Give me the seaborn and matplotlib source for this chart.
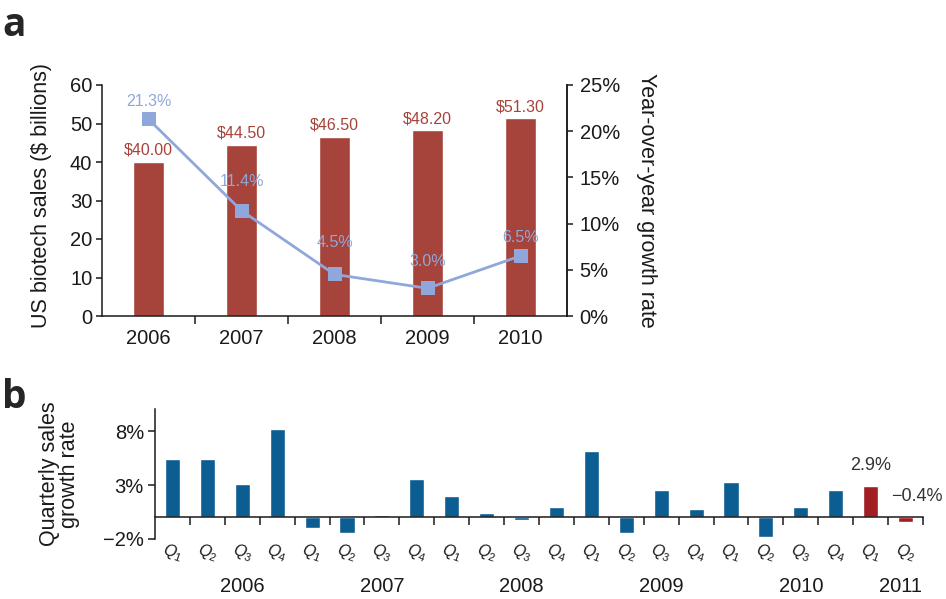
import matplotlib
matplotlib.use('Agg')
import matplotlib.pyplot as plt
import matplotlib.transforms as mtrans
from matplotlib.ticker import FixedLocator, FuncFormatter
import seaborn as sns
import pandas as pd
import numpy as np

# ---------------- data ----------------
years = ['2006', '2007', '2008', '2009', '2010']
sales = [40.00, 44.50, 46.50, 48.20, 51.30]
growth = [21.3, 11.4, 4.5, 3.0, 6.5]

q_years = ['2006', '2007', '2008', '2009', '2010', '2011']
quarters_per_year = [4, 4, 4, 4, 4, 2]
quarter_nums = ['1', '2', '3', '4'] * 5 + ['1', '2']
quarterly_growth = [5.4, 5.4, 3.1, 8.2, -1.0, -1.4, 0.2, 3.6, 2.0, 0.4,
                    -0.2, 1.0, 6.2, -1.4, 2.5, 0.8, 3.3, -1.8, 1.0, 2.5,
                    2.9, -0.4]
highlight_text = ['2.9%', '\u22120.4%']

# ---------------- style ----------------
sns.set_style('ticks')
plt.rcParams['font.family'] = ['Liberation Sans', 'DejaVu Sans']
plt.rcParams['mathtext.fontset'] = 'custom'
plt.rcParams['mathtext.rm'] = 'Liberation Sans'
plt.rcParams['mathtext.it'] = 'Liberation Sans:italic'

BAR_RED = '#A6433A'
LINE_BLUE = '#8FA7DA'
BLUE = '#0B5D92'
DARK_RED = '#A11E22'
INK = '#1a1a1a'

fig = plt.figure(figsize=(9.46, 5.99), dpi=100)
W, H = 946, 599

def rect(l, t, r, b):
    return [l / W, 1 - b / H, (r - l) / W, (b - t) / H]

# ---------------- panel a ----------------
ax = fig.add_axes(rect(102, 85, 567, 316))
df_a = pd.DataFrame({'year': years, 'sales': sales})
sns.barplot(data=df_a, x='year', y='sales', color=BAR_RED, saturation=1,
            width=0.34, ax=ax, zorder=2)
ax.set_xlim(-0.5, 4.5)
ax.set_ylim(0, 60)
ax.set_yticks([0, 10, 20, 30, 40, 50, 60])
ax.set_xlabel('')
ax.set_ylabel('US biotech sales ($ billions)', fontsize=15.5, color=INK)
ax.yaxis.set_label_coords(-0.108, 0.52)
ax.tick_params(axis='y', labelsize=14.5, length=4, width=1.1, pad=3,
               colors=INK)
ax.tick_params(axis='x', which='major', labelsize=14.5, length=0, pad=9,
               colors=INK)
ax.xaxis.set_minor_locator(FixedLocator([0.5, 1.5, 2.5, 3.5]))
ax.tick_params(axis='x', which='minor', length=6, width=1.1, color=INK)
for s in ['left', 'bottom', 'right']:
    ax.spines[s].set_linewidth(1.1)
    ax.spines[s].set_color(INK)
ax.spines['top'].set_visible(False)

for i, v in enumerate(sales):
    ax.annotate(f'${v:.2f}', (i, v), xytext=(0, 3), textcoords='offset points',
                ha='center', va='bottom', fontsize=11.5, color=BAR_RED)

ax2 = ax.twinx()
ax2.set_position(rect(102, 85, 567, 316))
sns.lineplot(x=np.arange(len(growth)), y=growth, ax=ax2, color=LINE_BLUE,
             linewidth=2, marker='s', markersize=10, markeredgewidth=0)
ax2.set_ylim(0, 25)
ax2.set_xlim(-0.5, 4.5)
ax2.set_yticks([0, 5, 10, 15, 20, 25])
ax2.yaxis.set_major_formatter(FuncFormatter(lambda v, p: f'{v:.0f}%'))
ax2.tick_params(axis='y', labelsize=14.5, length=4, width=1.1, pad=5,
                colors=INK)
ax2.set_ylabel('Year-over-year growth rate', fontsize=15.5, color=INK,
               rotation=270, va='center', ha='center')
ax2.yaxis.set_label_coords(1.17, 0.50)
for s in ['top', 'left', 'bottom']:
    ax2.spines[s].set_visible(False)
ax2.spines['right'].set_linewidth(1.1)
ax2.spines['right'].set_color(INK)
ax2.set_xlabel('')

label_offsets = [13, 21, 23, 19, 13]
for i, (g, off) in enumerate(zip(growth, label_offsets)):
    ax2.annotate(f'{g:.1f}%', (i, g), xytext=(0, off),
                 textcoords='offset points', ha='center', va='center',
                 fontsize=11.5, color=LINE_BLUE, zorder=1)

# ---------------- panel b ----------------
bx = fig.add_axes(rect(155, 409, 923, 539))
ids = [f'{y} Q{q}' for y, n in zip(q_years, quarters_per_year)
       for q in quarter_nums[:n]]
colors = [BLUE] * 20 + [DARK_RED] * 2
df_b = pd.DataFrame({'id': ids, 'growth': quarterly_growth})
sns.barplot(data=df_b, x='id', y='growth', hue='id', palette=colors,
            order=ids, hue_order=ids, saturation=1, width=0.43,
            legend=False, ax=bx)
n = len(ids)
bx.set_xlim(-0.5, n - 0.5)
bx.set_ylim(-2, 10.05)
bx.set_yticks([-2, 3, 8])
bx.yaxis.set_major_formatter(
    FuncFormatter(lambda v, p: f'{v:.0f}%'.replace('-', '\u2212')))
bx.set_xlabel('')
bx.set_ylabel('Quarterly sales\ngrowth rate', fontsize=15.5, color=INK,
              linespacing=0.95)
bx.yaxis.set_label_coords(-0.098, 0.5)
bx.tick_params(axis='y', labelsize=14.5, length=5, width=1.1, pad=3,
               colors=INK)
bx.set_xticks(np.arange(n) + 0.5)
bx.set_xticklabels([])
bx.tick_params(axis='x', length=6, width=1.1, color=INK, direction='out')
bx.spines['bottom'].set_position(('data', 0))
bx.spines['top'].set_visible(False)
bx.spines['right'].set_visible(False)
for s in ['left', 'bottom']:
    bx.spines[s].set_linewidth(1.1)
    bx.spines[s].set_color(INK)

trans_q = mtrans.blended_transform_factory(bx.transData, fig.transFigure)
for i, q in enumerate(quarter_nums):
    bx.text(i, 1 - 553 / H, f'$Q_{{{q}}}$', transform=trans_q,
            ha='center', va='center', rotation=-20, fontsize=11.5,
            color=INK)

start = 0
for yr, cnt in zip(q_years, quarters_per_year):
    center = start + (cnt - 1) / 2
    shift = 0.5 if cnt == 4 else 0.35
    bx.text(center + shift, 1 - 586 / H, yr, transform=trans_q,
            ha='center', va='center', fontsize=14.5, color=INK)
    start += cnt

bx.annotate(highlight_text[0], (20, quarterly_growth[20]), xytext=(0, 15),
            textcoords='offset points', ha='center', va='center',
            fontsize=13, color='#333333')
bx.text(21.33, 1.9, highlight_text[1], ha='center', va='center',
        fontsize=13, color='#333333')

# panel letters
fig.text(0.002, 1 - 36 / H, 'a', fontsize=28, fontweight='bold',
         family=['Open Sans', 'DejaVu Sans'], ha='left', va='baseline')
fig.text(0.002, 1 - 408 / H, 'b', fontsize=28, fontweight='bold',
         family=['Open Sans', 'DejaVu Sans'], ha='left', va='baseline')

fig.savefig('out.png', dpi=100)
